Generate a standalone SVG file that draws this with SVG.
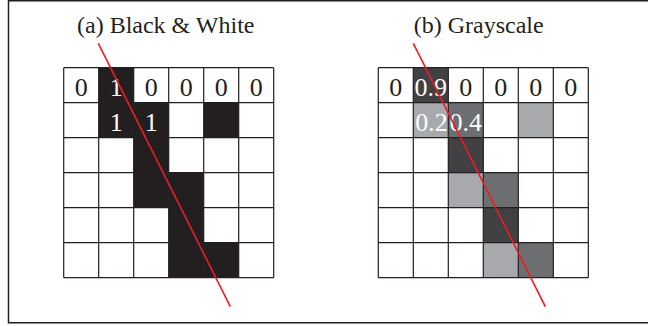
<svg xmlns="http://www.w3.org/2000/svg" width="648" height="326" viewBox="0 0 648 326">
<style>
.title{font-family:"Liberation Serif","Times New Roman",serif;font-size:24px;fill:#231f20}
.v{font-family:"Liberation Serif","Times New Roman",serif;font-size:26px;fill:#231f20;text-anchor:middle}
.w{fill:#ffffff}
.blk{fill:#231f20}
.dk{fill:#414042}
.md{fill:#6d6e71}
.lt{fill:#a7a9ac}
.grid{stroke:#231f20;stroke-width:1.2;fill:none}
.red{stroke:#ed1c24;stroke-width:1.6;fill:none}
</style>
<rect x="8.5" y="0.75" width="660" height="322" fill="#ffffff" stroke="#231f20" stroke-width="1.5"/>

<g id="panel-a">
  <text class="title" x="77" y="33">(a) Black &amp; White</text>
  <g id="cells-a">
    <rect class="blk" x="98.7" y="67.7" width="35" height="35"/>
    <rect class="blk" x="98.7" y="102.7" width="35" height="35"/>
    <rect class="blk" x="133.7" y="102.7" width="35" height="35"/>
    <rect class="blk" x="203.7" y="102.7" width="35" height="35"/>
    <rect class="blk" x="133.7" y="137.7" width="35" height="35"/>
    <rect class="blk" x="133.7" y="172.7" width="35" height="35"/>
    <rect class="blk" x="168.7" y="172.7" width="35" height="35"/>
    <rect class="blk" x="168.7" y="207.7" width="35" height="35"/>
    <rect class="blk" x="168.7" y="242.7" width="35" height="35"/>
    <rect class="blk" x="203.7" y="242.7" width="35" height="35"/>
  </g>
  <path class="grid" d="M63.7 67.7H273.7M63.7 102.7H273.7M63.7 137.7H273.7M63.7 172.7H273.7M63.7 207.7H273.7M63.7 242.7H273.7M63.7 277.7H273.7M63.7 67.7V277.7M98.7 67.7V277.7M133.7 67.7V277.7M168.7 67.7V277.7M203.7 67.7V277.7M238.7 67.7V277.7M273.7 67.7V277.7"/>
  <g id="labels-a">
    <text class="v" x="81.2" y="96">0</text>
    <text class="v w" x="116.2" y="96">1</text>
    <text class="v" x="151.2" y="96">0</text>
    <text class="v" x="186.2" y="96">0</text>
    <text class="v" x="221.2" y="96">0</text>
    <text class="v" x="256.2" y="96">0</text>
    <text class="v w" x="116.2" y="131">1</text>
    <text class="v w" x="151.2" y="131">1</text>
  </g>
</g>

<g id="panel-b">
  <text class="title" x="413.7" y="33">(b) Grayscale</text>
  <g id="cells-b">
    <rect class="dk" x="413.3" y="67.7" width="35" height="35"/>
    <rect class="lt" x="413.3" y="102.7" width="35" height="35"/>
    <rect class="md" x="448.3" y="102.7" width="35" height="35"/>
    <rect class="lt" x="518.3" y="102.7" width="35" height="35"/>
    <rect class="dk" x="448.3" y="137.7" width="35" height="35"/>
    <rect class="lt" x="448.3" y="172.7" width="35" height="35"/>
    <rect class="md" x="483.3" y="172.7" width="35" height="35"/>
    <rect class="dk" x="483.3" y="207.7" width="35" height="35"/>
    <rect class="lt" x="483.3" y="242.7" width="35" height="35"/>
    <rect class="md" x="518.3" y="242.7" width="35" height="35"/>
  </g>
  <path class="grid" d="M378.3 67.7H588.3M378.3 102.7H588.3M378.3 137.7H588.3M378.3 172.7H588.3M378.3 207.7H588.3M378.3 242.7H588.3M378.3 277.7H588.3M378.3 67.7V277.7M413.3 67.7V277.7M448.3 67.7V277.7M483.3 67.7V277.7M518.3 67.7V277.7M553.3 67.7V277.7M588.3 67.7V277.7"/>
  <g id="labels-b">
    <text class="v" x="395.8" y="96">0</text>
    <text class="v w" x="430.8" y="96">0.9</text>
    <text class="v" x="465.8" y="96">0</text>
    <text class="v" x="500.8" y="96">0</text>
    <text class="v" x="535.8" y="96">0</text>
    <text class="v" x="570.8" y="96">0</text>
    <text class="v w" x="431.5" y="131">0.2</text>
    <text class="v w" x="465.8" y="131">0.4</text>
  </g>
</g>

<g id="connectors">
  <line class="red" x1="98.3" y1="43.3" x2="230.3" y2="306.7"/>
  <line class="red" x1="413.3" y1="43.3" x2="545.3" y2="306.7"/>
</g>
</svg>
